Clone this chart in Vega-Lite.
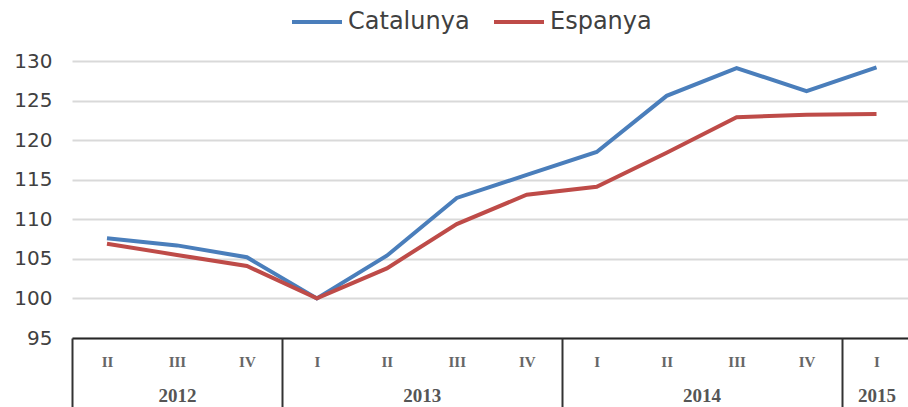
{
  "$schema": "https://vega.github.io/schema/vega-lite/v6.json",
  "autosize": {"type": "none"},
  "width": 836,
  "height": 277,
  "padding": {"left": 72, "top": 61, "right": 0, "bottom": 69},
  "background": "white",
  "config": {"view": {"stroke": null}},
  "data": {
    "values": [
      {"series": "Catalunya", "idx": 0, "value": 107.6},
      {"series": "Catalunya", "idx": 1, "value": 106.7},
      {"series": "Catalunya", "idx": 2, "value": 105.2},
      {"series": "Catalunya", "idx": 3, "value": 100.0},
      {"series": "Catalunya", "idx": 4, "value": 105.4},
      {"series": "Catalunya", "idx": 5, "value": 112.7},
      {"series": "Catalunya", "idx": 6, "value": 115.6},
      {"series": "Catalunya", "idx": 7, "value": 118.5},
      {"series": "Catalunya", "idx": 8, "value": 125.6},
      {"series": "Catalunya", "idx": 9, "value": 129.1},
      {"series": "Catalunya", "idx": 10, "value": 126.2},
      {"series": "Catalunya", "idx": 11, "value": 129.2},
      {"series": "Espanya", "idx": 0, "value": 106.9},
      {"series": "Espanya", "idx": 1, "value": 105.5},
      {"series": "Espanya", "idx": 2, "value": 104.1},
      {"series": "Espanya", "idx": 3, "value": 100.0},
      {"series": "Espanya", "idx": 4, "value": 103.8},
      {"series": "Espanya", "idx": 5, "value": 109.4},
      {"series": "Espanya", "idx": 6, "value": 113.1},
      {"series": "Espanya", "idx": 7, "value": 114.1},
      {"series": "Espanya", "idx": 8, "value": 118.4},
      {"series": "Espanya", "idx": 9, "value": 122.9},
      {"series": "Espanya", "idx": 10, "value": 123.2},
      {"series": "Espanya", "idx": 11, "value": 123.3}
    ]
  },
  "encoding": {
    "y": {
      "field": "value",
      "type": "quantitative",
      "scale": {"domain": [95, 130], "nice": false, "zero": false},
      "axis": {
        "title": null,
        "values": [95, 100, 105, 110, 115, 120, 125, 130],
        "domain": false,
        "ticks": false,
        "labelPadding": 20,
        "labelFont": "DejaVu Sans",
        "labelFontSize": 20,
        "labelColor": "#404040",
        "gridColor": "#d9d9d9",
        "gridWidth": 2
      }
    }
  },
  "layer": [
    {
      "mark": {"type": "line", "strokeWidth": 4},
      "encoding": {
        "x": {
          "field": "idx",
          "type": "quantitative",
          "scale": {"domain": [-0.5, 11.45], "nice": false, "zero": false},
          "axis": {
            "orient": "bottom",
            "title": null,
            "values": [0, 1, 2, 3, 4, 5, 6, 7, 8, 9, 10, 11],
            "labelExpr": "['II','III','IV','I','II','III','IV','I','II','III','IV','I'][datum.value]",
            "grid": false,
            "ticks": false,
            "domain": true,
            "domainColor": "#262626",
            "domainWidth": 2,
            "labelPadding": 16,
            "labelFlush": false,
            "labelOverlap": false,
            "labelFont": "Liberation Serif",
            "labelFontSize": 15,
            "labelFontWeight": "bold",
            "labelColor": "#666666"
          }
        },
        "color": {
          "field": "series",
          "type": "nominal",
          "scale": {"domain": ["Catalunya", "Espanya"], "range": ["#4a7ebb", "#be4b48"]},
          "legend": {
            "orient": "none",
            "legendX": 218,
            "legendY": -66,
            "direction": "horizontal",
            "title": null,
            "symbolType": "stroke",
            "symbolSize": 2500,
            "symbolStrokeWidth": 4,
            "labelFont": "DejaVu Sans",
            "labelFontSize": 24,
            "labelColor": "#404040",
            "labelOffset": 4,
            "columnPadding": 16
          }
        }
      }
    },
    {
      "mark": {"type": "point", "opacity": 0},
      "encoding": {
        "x": {
          "field": "idx",
          "type": "quantitative",
          "axis": {
            "orient": "bottom",
            "title": null,
            "values": [1, 4.5, 8.5, 11],
            "labelExpr": "datum.value == 1 ? '2012' : datum.value == 4.5 ? '2013' : datum.value == 8.5 ? '2014' : '2015'",
            "grid": false,
            "ticks": false,
            "domain": false,
            "labelPadding": 48,
            "labelFlush": false,
            "labelOverlap": false,
            "labelFont": "Liberation Serif",
            "labelFontSize": 19,
            "labelFontWeight": "bold",
            "labelColor": "#555555"
          }
        }
      }
    },
    {
      "mark": {"type": "point", "opacity": 0},
      "encoding": {
        "x": {
          "field": "idx",
          "type": "quantitative",
          "axis": {
            "orient": "bottom",
            "title": null,
            "values": [-0.5, 2.5, 6.5, 10.5],
            "labels": false,
            "grid": false,
            "ticks": true,
            "tickSize": 70,
            "tickWidth": 2,
            "tickColor": "#333333",
            "domain": false
          }
        }
      }
    }
  ],
  "resolve": {"axis": {"x": "independent"}}
}
